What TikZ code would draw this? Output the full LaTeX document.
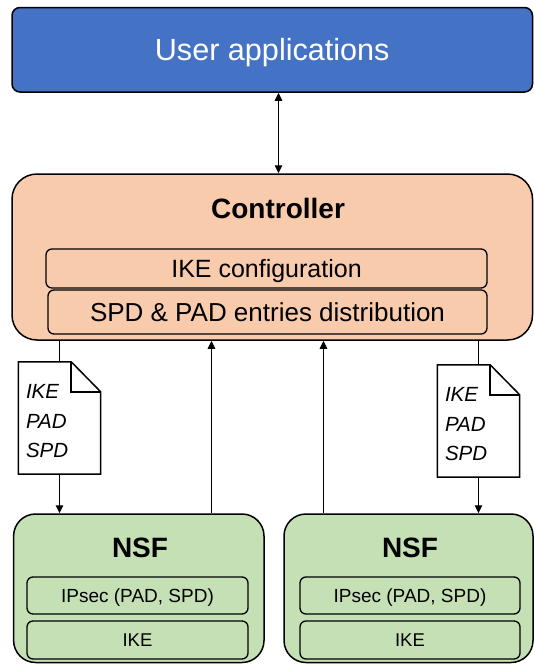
\documentclass[tikz,border=0pt]{standalone}
\usepackage{fontspec}
\setmainfont{Liberation Sans}
\usetikzlibrary{arrows.meta}
\definecolor{userblue}{HTML}{4472C4}
\definecolor{ctrlpeach}{HTML}{F8CBAD}
\definecolor{nsfgreen}{HTML}{C5E0B4}
\tikzstyle{userbox} = [draw, fill=userblue, rounded corners=8pt, line width=1.5pt, minimum width=520.5pt, minimum height=84.5pt, text=white, text depth=0pt, font=\fontsize{30.6}{36}\selectfont]
\tikzstyle{ctrlbox} = [draw, fill=ctrlpeach, rounded corners=25pt, line width=1.5pt, minimum width=520.5pt, minimum height=166pt]
\tikzstyle{nsfbox} = [draw, fill=nsfgreen, rounded corners=22pt, line width=1.5pt, minimum height=148.5pt]
\tikzstyle{heading} = [inner sep=0pt, text depth=0pt, font=\fontsize{28}{32}\selectfont\bfseries]
\tikzstyle{part} = [draw, rounded corners=6pt, line width=1.3pt, inner sep=0pt, text depth=0pt]
\tikzstyle{sheet} = [minimum width=82pt, minimum height=112pt, inner sep=0pt]
\tikzstyle{sheettext} = [inner sep=0pt, text width=67pt, align=left, font=\fontsize{20.5}{29.5}\selectfont\itshape]
\tikzstyle{sheetline} = [line width=1.5pt, line join=miter]
\tikzstyle{link} = [line width=1.3pt]

\begin{document}
\begin{tikzpicture}[x=1pt, y=-1pt, auto, node distance=44.5pt, >={Stealth[length=8pt, width=7.5pt, inset=0pt]}]
    \useasboundingbox (0,0) rectangle (534,664);
    \node [userbox] (user) at (272.25,49.75) {User applications};
    \node [ctrlbox] (ctrl) at (272.25,257) {};
    \node [heading] (ctrltitle) at (278,208) {Controller};
    \node [part, minimum width=441pt, minimum height=39pt, font=\fontsize{25}{30}\selectfont] (ikecfg) at (266.5,268.5) {IKE configuration};
    \node [part, minimum width=439pt, minimum height=44pt, font=\fontsize{26}{30}\selectfont] (distrib) at (267.5,312) {SPD \& PAD entries distribution};

    \coordinate (appslink) at ([xshift=6.25pt]user.south);
    \draw [<->, link] (appslink) -- (appslink |- ctrl.north);

    % NSF boxes
    \node [nsfbox, minimum width=250.4pt] (nsfL) at (138.8,588.25) {};
    \node [heading] (nsfLtitle) at (140,548) {NSF};
    \node [part, minimum width=221pt, minimum height=37pt, font=\fontsize{19}{22}\selectfont] (ipsecL) at (137.5,595.5) {IPsec (PAD, SPD)};
    \node [part, below of=ipsecL, minimum width=221pt, minimum height=38pt, font=\fontsize{18.5}{22}\selectfont] (ikeL) {IKE};

    \node [nsfbox, minimum width=249pt] (nsfR) at (408.5,588.25) {};
    \node [heading] (nsfRtitle) at (410,548) {NSF};
    \node [part, minimum width=220pt, minimum height=37pt, font=\fontsize{19}{22}\selectfont] (ipsecR) at (410,595.5) {IPsec (PAD, SPD)};
    \node [part, below of=ipsecR, minimum width=220pt, minimum height=38pt, font=\fontsize{18.5}{22}\selectfont] (ikeR) {IKE};

    % documents
    \node [sheet] (docL) at (59.5,418) {};
    \node [sheettext] (docLtext) at ([yshift=-3.5pt]docL.center) {IKE\\PAD\\SPD};
    \draw [sheetline] (docL.north west) -- ([xshift=-29.5pt]docL.north east) -- ([yshift=-30pt]docL.north east) -- (docL.south east) -- (docL.south west) -- cycle;
    \draw [sheetline] ([xshift=-29.5pt]docL.north east) |- ([yshift=-30pt]docL.north east);

    \node [sheet] (docR) at (478.5,421) {};
    \node [sheettext] (docRtext) at ([yshift=-3.5pt]docR.center) {IKE\\PAD\\SPD};
    \draw [sheetline] (docR.north west) -- ([xshift=-29.5pt]docR.north east) -- ([yshift=-30pt]docR.north east) -- (docR.south east) -- (docR.south west) -- cycle;
    \draw [sheetline] ([xshift=-29.5pt]docR.north east) |- ([yshift=-30pt]docR.north east);

    \draw [link] (docL.north |- ctrl.south) -- (docL.north);
    \draw [->, link] (docL.south) -- (docL.south |- nsfL.north);
    \draw [link] (docR.north |- ctrl.south) -- (docR.north);
    \draw [->, link] (docR.south) -- (docR.south |- nsfR.north);

    \coordinate (upL) at ([xshift=72.7pt]nsfL.north);
    \coordinate (upR) at ([xshift=-85pt]nsfR.north);
    \draw [->, link] (upL) -- (upL |- ctrl.south);
    \draw [->, link] (upR) -- (upR |- ctrl.south);
\end{tikzpicture}
\end{document}
